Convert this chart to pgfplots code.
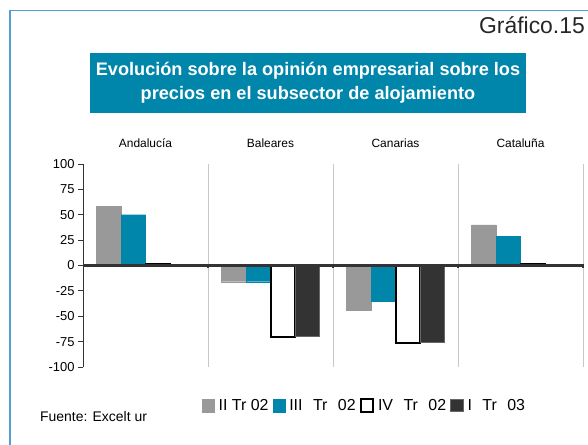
\documentclass[border=0pt]{standalone}
\usepackage{pgfplots}
\pgfplotsset{compat=1.18}
\usepackage{fontspec}
\setmainfont{Liberation Sans}
\definecolor{teal1}{RGB}{0,134,170}
\definecolor{gray1}{RGB}{153,153,153}
\definecolor{dark1}{RGB}{51,51,51}
\definecolor{border1}{RGB}{80,160,210}
\definecolor{sep1}{RGB}{200,200,200}
\begin{document}
\begin{tikzpicture}
\path[use as bounding box] (0bp,0bp) rectangle (588bp,445bp);
% frame
\draw[border1, line width=1.5bp] (10bp,0bp) -- (10bp,434.3bp) -- (588bp,434.3bp);
% Grafico label
\node[anchor=base east, inner sep=0pt, text=black!85, font=\fontsize{23}{26}\selectfont] at (585bp,411bp) {Gráfico.15};
% title box
\fill[teal1] (90bp,392bp) rectangle (526bp,331.7bp);
\node[anchor=base, inner sep=0pt, text=white, font=\fontsize{18.2}{20}\selectfont\bfseries] at (308bp,369bp) {Evolución sobre la opinión empresarial sobre los};
\node[anchor=base, inner sep=0pt, text=white, font=\fontsize{18.2}{20}\selectfont\bfseries] at (308bp,345bp) {precios en el subsector de alojamiento};
% source
\node[anchor=base west, inner sep=0pt, font=\fontsize{14}{16}\selectfont] at (40bp,24bp) {Fuente: Excelt ur};
\begin{axis}[
  at={(83bp,78bp)}, anchor=south west,
  scale only axis, width=500bp, height=203bp,
  xmin=-0.5, xmax=3.5, ymin=-100, ymax=100,
  axis x line=middle, axis y line=left,
  x axis line style={draw=none},
  y axis line style={dark1, line width=0.8bp, -},
  xtick={0.5,1.5,2.5,3.5}, xticklabels={},
  xmajorgrids, grid style={sep1, line width=0.8bp},
  major x tick style={draw=none},
  ytick={-100,-75,-50,-25,0,25,50,75,100},
  yticklabels={-100,-75,-50,-25,0,25,50,75,100},
  tick align=outside, major tick length=5bp,
  major y tick style={dark1, line width=0.8bp},
  /pgf/number format/assume math mode=true,
  yticklabel style={font=\fontsize{13}{15}\selectfont, text=black},
  ybar=0pt, bar width=0.196,
  legend columns=4,
  legend image code/.code={\draw[#1] (0bp,-6.2bp) rectangle (12.4bp,6.2bp);},
  legend style={at={(rel axis cs:0.238,-0.19)}, anchor=west, draw=none, fill=none,
    inner sep=0pt, outer sep=0pt,
    font=\fontsize{16}{18}\selectfont,
    nodes={inner sep=0pt},
    /tikz/every odd column/.append style={column sep=4bp},
    /tikz/every even column/.append style={column sep=4bp}},
  clip=false,
]
\addplot[fill=gray1, draw=gray1, line width=0.3bp] coordinates {(0,58) (1,-16) (2,-44) (3,40)};
\addplot[fill=teal1, draw=teal1, line width=0.3bp] coordinates {(0,50) (1,-16) (2,-35) (3,29)};
\addplot[fill=white, draw=black, line width=2bp] coordinates {(0,1) (1,-70) (2,-76) (3,1)};
\addplot[fill=dark1, draw=black!60, line width=1bp] coordinates {(0,-1) (1,-70) (2,-76) (3,-1)};
\legend{II Tr 02\hspace{13bp}, III\hspace{6bp} Tr\hspace{6bp} 02, IV\hspace{6bp} Tr\hspace{6bp} 02, I\hspace{6bp} Tr\hspace{6bp} 03}
\draw[dark1, line width=2.2bp] (axis cs:-0.5,0) -- (axis cs:3.5,0);
\draw[dark1, line width=1.5bp] ([yshift=-3bp]axis cs:0.5,0) -- ([yshift=1bp]axis cs:0.5,0);
\draw[dark1, line width=1.5bp] ([yshift=-3bp]axis cs:1.5,0) -- ([yshift=1bp]axis cs:1.5,0);
\draw[dark1, line width=1.5bp] ([yshift=-3bp]axis cs:2.5,0) -- ([yshift=1bp]axis cs:2.5,0);
\draw[dark1, line width=1.5bp] ([yshift=-3bp]axis cs:3.5,0) -- ([yshift=1bp]axis cs:3.5,0);
\node[anchor=base, inner sep=0pt, font=\fontsize{12}{14}\selectfont] at (axis cs:0,100) [yshift=16bp] {Andalucía};
\node[anchor=base, inner sep=0pt, font=\fontsize{12}{14}\selectfont] at (axis cs:1,100) [yshift=16bp] {Baleares};
\node[anchor=base, inner sep=0pt, font=\fontsize{12}{14}\selectfont] at (axis cs:2,100) [yshift=16bp] {Canarias};
\node[anchor=base, inner sep=0pt, font=\fontsize{12}{14}\selectfont] at (axis cs:3,100) [yshift=16bp] {Cataluña};
\end{axis}
\end{tikzpicture}
\end{document}
